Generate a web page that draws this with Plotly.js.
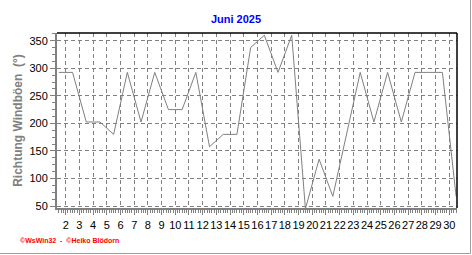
<!DOCTYPE html>
<html>
<head>
<meta charset="utf-8">
<script src="https://cdn.plot.ly/plotly-3.0.1.min.js"></script>
<style>
  html, body { margin: 0; padding: 0; background: #ffffff; }
  #chart { width: 472px; height: 255px; }
</style>
</head>
<body>
<div id="chart"></div>
<script>
// Days of June 2025 (one value per day, plotted at noon)
const days = [1,2,3,4,5,6,7,8,9,10,11,12,13,14,15,16,17,18,19,20,21,22,23,24,25,26,27,28,29,30];
// Direction of wind gusts in degrees
const gustDirection = [292.5,292.5,202.5,202.5,180,292.5,202.5,292.5,225,225,292.5,157.5,180,180,337.5,360,292.5,360,45,135,67.5,180,292.5,202.5,292.5,202.5,292.5,292.5,292.5,67.5];
// x tick labels
const xTickDays = [2,3,4,5,6,7,8,9,10,11,12,13,14,15,16,17,18,19,20,21,22,23,24,25,26,27,28,29,30];
const xTickText = xTickDays.map(String);
// y tick values
const yTickVals = [50,100,150,200,250,300,350];

const chartTitle = 'Juni 2025';
const yTitle = 'Richtung Windböen  (°)';
const footer = '©WsWin32  -  ©Heiko Blödorn';

const xNoon = days.map(d => d + 0.5);

const gray = '#808080';
const font = 'Liberation Sans, Arial, sans-serif';

const trace = {
  x: xNoon,
  y: gustDirection,
  type: 'scatter',
  mode: 'lines',
  line: { color: gray, width: 1 },
  hoverinfo: 'skip'
};

const layout = {
  width: 472,
  height: 255,
  margin: { l: 57, r: 15, t: 33, b: 47, pad: 0 },
  paper_bgcolor: '#ffffff',
  plot_bgcolor: '#ffffff',
  showlegend: false,
  font: { family: font, size: 11, color: '#000000' },
  title: {
    text: '<b>' + chartTitle + '</b>',
    font: { family: font, size: 11, color: '#0000ff' },
    x: 0.5, xref: 'container', xanchor: 'center',
    y: 1 - 19 / 255, yref: 'container', yanchor: 'middle'
  },
  xaxis: {
    range: [1.365, 30.565],
    tickmode: 'array',
    tickvals: xTickDays,
    ticktext: xTickText,
    tickangle: 0,
    ticks: 'outside',
    ticklen: 5,
    tickwidth: 1,
    tickcolor: gray,
    ticklabelstandoff: 1,
    tickfont: { family: font, size: 11, color: '#000000' },
    showgrid: true,
    gridcolor: gray,
    griddash: '4px,3px',
    gridwidth: 1,
    showline: true,
    linecolor: gray,
    linewidth: 2,
    zeroline: false,
    minor: { tick0: 0, dtick: 1/6, ticks: 'outside', ticklen: 3, tickcolor: gray, showgrid: false }
  },
  yaxis: {
    range: [46.4, 364],
    tickmode: 'array',
    tickvals: yTickVals,
    ticks: 'outside',
    ticklen: 5,
    tickwidth: 1,
    tickcolor: gray,
    tickfont: { family: font, size: 11, color: '#000000' },
    showgrid: true,
    gridcolor: gray,
    griddash: '4px,3px',
    gridwidth: 1,
    showline: true,
    linecolor: gray,
    linewidth: 2,
    zeroline: false,
    minor: { tick0: 0, dtick: 12.5, ticks: 'outside', ticklen: 3, tickcolor: gray, showgrid: false },
    title: {
      text: '<b>' + yTitle + '</b>',
      font: { family: font, size: 12, color: gray },
      standoff: 4
    }
  },
  shapes: [
    // top and right frame of plot area (black)
    { type: 'line', xref: 'paper', yref: 'paper', x0: 0, x1: 1, y0: 1, y1: 1, line: { color: '#000000', width: 1.5 } },
    { type: 'line', xref: 'paper', yref: 'paper', x0: 1, x1: 1, y0: 0, y1: 1, line: { color: '#000000', width: 1.5 } },
    // outer panel border (right and bottom)
    { type: 'line', xref: 'paper', yref: 'paper', x0: (470.5 - 57) / 400, x1: (470.5 - 57) / 400, y0: (208 - 253.5) / 175, y1: 208 / 175, line: { color: '#a0a0a0', width: 1 } },
    { type: 'line', xref: 'paper', yref: 'paper', x0: -57 / 400, x1: (470.5 - 57) / 400, y0: (208 - 253.5) / 175, y1: (208 - 253.5) / 175, line: { color: '#a0a0a0', width: 1 } }
  ],
  annotations: [
    {
      text: '<b>' + footer + '</b>',
      xref: 'paper', yref: 'paper',
      x: (18 - 57) / 400, xanchor: 'left',
      y: (208 - 240.7) / 175, yanchor: 'middle',
      showarrow: false,
      font: { family: font, size: 7, color: '#ff0000' }
    }
  ]
};

Plotly.newPlot('chart', [trace], layout, { displayModeBar: false, staticPlot: true });
</script>
</body>
</html>
